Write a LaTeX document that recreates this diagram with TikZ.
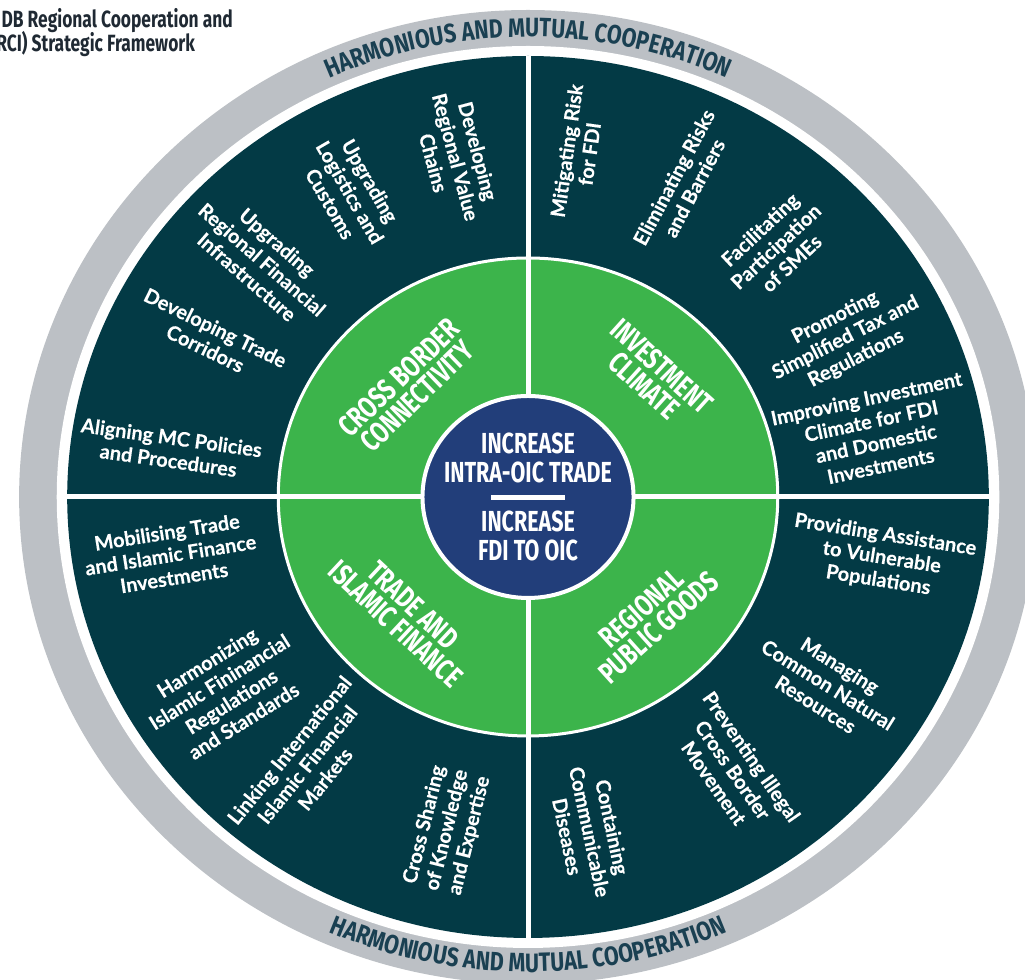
\documentclass[tikz,border=0pt]{standalone}
\usepackage{fontspec}
\setmainfont{Lato}
\newfontfamily\goalfont{Lato}[BoldFeatures={FakeBold=0.3}]
\newfontfamily\condfont{Fira Sans}[FakeStretch=0.74]
\newfontfamily\ringfont{Fira Sans}[FakeStretch=0.81]
\usetikzlibrary{decorations.text}

\definecolor{ringgray}{HTML}{BCC0C5}
\definecolor{darkteal}{HTML}{033A45}
\definecolor{leafgreen}{HTML}{3CB44B}
\definecolor{oicnavy}{HTML}{223E7A}
\definecolor{ringink}{HTML}{1A4052}
\definecolor{titleink}{HTML}{1F2933}

\begin{document}
\begin{tikzpicture}[x=1.045pt, y=1pt,
  goal/.style={text=white, align=center, inner sep=0pt, font=\goalfont\fontsize{20}{23}\selectfont\bfseries},
  pillar/.style={text=white, align=center, inner sep=0pt, font=\condfont\fontsize{30}{26}\selectfont\bfseries},
  hub/.style={text=white, align=center, inner sep=0pt, font=\condfont\fontsize{29}{29}\selectfont\bfseries},
  heading/.style={text=titleink, anchor=base west, inner sep=0pt, font=\condfont\fontsize{23.5}{24}\selectfont\bfseries}]
  \useasboundingbox (-505.3,-483) rectangle (475.6,497);
  \clip (-505.3,-483) rectangle (475.6,497);
  %
  \fill[ringgray] (0,0) circle[radius=487];
  \fill[white] (0,0) circle[radius=451];
  \fill[darkteal] (0,0) circle[radius=441];
  \filldraw[fill=leafgreen, draw=white, line width=3pt] (0,0) circle[radius=239];
  \draw[white, line width=5pt] (-441,0) -- (441,0);
  \draw[white, line width=5pt] (0,-441) -- (0,441);
  \filldraw[fill=oicnavy, draw=white, line width=4pt] (0,0) circle[radius=101];
  %
  \path[decorate, decoration={text along path, text align=center, text color=ringink,
    text={|\ringfont\fontsize{26.5}{26.5}\selectfont\bfseries|HARMONIOUS AND MUTUAL COOPERATION}}]
    (150:460) arc[start angle=150, end angle=30, radius=460];
  \path[decorate, decoration={text along path, text align=center, text color=ringink,
    text={|\ringfont\fontsize{26.5}{26.5}\selectfont\bfseries|HARMONIOUS AND MUTUAL COOPERATION}}]
    (210:475) arc[start angle=210, end angle=330, radius=475];
  %
  \node[heading] (title1) at (-504,469) {DB Regional Cooperation and};
  \node[heading] (title2) at (-509,445) {RCI) Strategic Framework};
  %
  \node[hub] (trade) at (0,39) {INCREASE\\INTRA-OIC TRADE};
  \draw[white, line width=5pt] (-35,-1) -- (35,-1);
  \node[hub] (fdi) at (0,-39) {INCREASE\\FDI TO OIC};
  %
  \node[pillar, rotate=44] (connectivity) at (136.2:159) {CROSS BORDER\\CONNECTIVITY};
  \node[pillar, rotate=-42] (investment) at (45.3:170) {INVESTMENT\\CLIMATE};
  \node[pillar, rotate=-43] (islamic) at (224.8:167) {TRADE AND\\ISLAMIC FINANCE};
  \node[pillar, rotate=42] (publicgoods) at (314:168) {REGIONAL\\PUBLIC GOODS};
  %
  \node[goal, rotate=-8] (aligning) at (172:346) {Aligning MC Policies\\and Procedures};
  \node[goal, rotate=-26] (corridors) at (152.4:343) {Developing Trade\\Corridors};
  \node[goal, rotate=-41] (infrastructure) at (137:348) {Upgrading\\Regional Financial\\Infrastructure};
  \node[goal, rotate=-60] (logistics) at (119.2:349) {Upgrading\\Logistics and\\Customs};
  \node[goal, rotate=-75] (valuechains) at (101.5:347) {Developing\\Regional Value\\Chains};
  %
  \node[goal, rotate=82] (mitigating) at (82.1:348) {Mitigating Risk\\for FDI};
  \node[goal, rotate=62] (eliminating) at (64.6:348) {Eliminating Risks\\and Barriers};
  \node[goal, rotate=43] (smes) at (46.6:345) {Facilitating\\Participation\\of SMEs};
  \node[goal, rotate=27] (tax) at (27.6:343) {Promoting\\Simplified Tax and\\Regulations};
  \node[goal, rotate=12] (climate) at (11.1:337) {Improving Investment\\Climate for FDI\\and Domestic\\Investments};
  %
  \node[goal, rotate=9] (mobilising) at (189.6:347) {Mobilising Trade\\and Islamic Finance\\Investments};
  \node[goal, rotate=32] (harmonizing) at (213.9:349) {Harmonizing\\Islamic Fininancial\\Regulations\\and Standards};
  \node[goal, rotate=51] (linking) at (231.7:341) {Linking International\\Islamic Financial\\Markets};
  \node[goal, rotate=76] (sharing) at (256.9:342) {Cross Sharing\\of Knowledge\\and Expertise};
  %
  \node[goal, rotate=-9] (assistance) at (-10.2:344) {Providing Assistance\\to Vulnerable\\Populations};
  \node[goal, rotate=-32] (resources) at (-33.2:343) {Managing\\Common Natural\\Resources};
  \node[goal, rotate=-55] (illegal) at (-54.3:336) {Preventing Illegal\\Cross Border\\Movement};
  \node[goal, rotate=-78] (diseases) at (-80:340) {Containing\\Communicable\\Diseases};
\end{tikzpicture}
\end{document}
